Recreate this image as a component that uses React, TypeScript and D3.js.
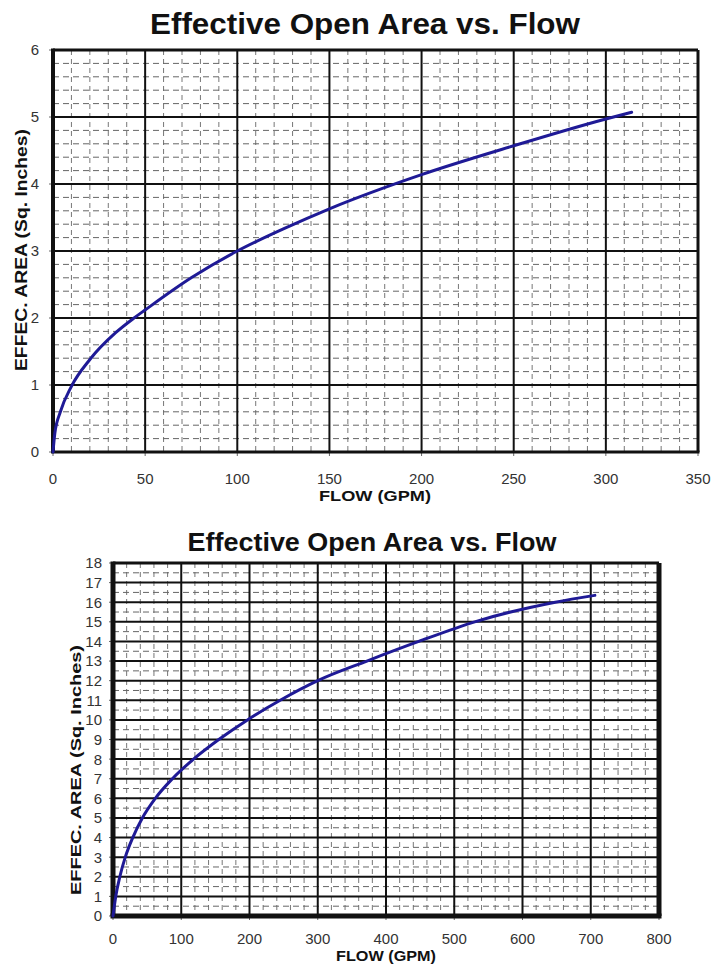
import * as d3 from 'd3';
import React from 'react';

// values
const smallFlow = [0, 1, 4, 10, 20, 34, 44, 50, 75, 100, 125, 150, 200, 250, 300, 314];
const smallArea = [0, 0.28, 0.6, 0.98, 1.38, 1.78, 2.0, 2.12, 2.6, 3.0, 3.33, 3.63, 4.14, 4.57, 4.97, 5.07];
const smallXTicks = [0, 50, 100, 150, 200, 250, 300, 350];
const smallYTicks = [0, 1, 2, 3, 4, 5, 6];

const bigFlow = [0, 4, 10, 18, 29, 43, 62, 87, 118, 155, 197, 245, 300, 372, 448, 530, 648, 706];
const bigArea = [0, 1, 2, 3, 4, 5, 6, 7, 8, 9, 10, 11, 12, 13, 14, 15, 16, 16.35];
const bigXTicks = [0, 100, 200, 300, 400, 500, 600, 700, 800];
const bigYTicks = d3.range(0, 19);

const FONT = 'Liberation Sans, Arial, sans-serif';

type Props = {
  flow: number[];
  area: number[];
  xTicks: number[];
  yTicks: number[];
  xMinor: number;
  yMinor: number;
  box: { left: number; right: number; top: number; bottom: number };
  border: { left: number; right: number; top: number; bottom: number };
  title: { x: number; y: number; size: number; len: number };
  yTitle: { x: number; y: number; size: number; len: number };
  xTitle: { x: number; y: number; size: number; len: number };
  tickSize: number;
  xLabelY: number;
  yLabelX: number;
};

const Chart: React.FC<Props> = (p) => {
  const { box } = p;
  const x = d3.scaleLinear()
    .domain([p.xTicks[0], p.xTicks[p.xTicks.length - 1]])
    .range([box.left, box.right]);
  const y = d3.scaleLinear()
    .domain([p.yTicks[0], p.yTicks[p.yTicks.length - 1]])
    .range([box.bottom, box.top]);

  const [x0, x1] = x.domain();
  const [y0, y1] = y.domain();
  const xMinor = d3.range(x0, x1 + 1e-9, p.xMinor).filter((v) => !p.xTicks.includes(v));
  const yMinor = d3.range(y0, y1 + 1e-9, p.yMinor)
    .map((v) => +v.toFixed(3))
    .filter((v) => !p.yTicks.includes(v));

  const pts = p.flow.map((f, i) => [f, p.area[i]] as [number, number]);
  const line = d3.line<[number, number]>()
    .x((d) => x(d[0]))
    .y((d) => y(d[1]))
    .curve(d3.curveMonotoneX);

  return (
    <g>
      <text x={p.title.x} y={p.title.y} textAnchor="middle" fontFamily={FONT} fontWeight="bold"
        fontSize={p.title.size} textLength={p.title.len} lengthAdjust="spacingAndGlyphs" fill="#111">
        Effective Open Area vs. Flow
      </text>

      {/* minor dashed grid */}
      {xMinor.map((v) => (
        <line key={'xm' + v} x1={x(v)} x2={x(v)} y1={box.top} y2={box.bottom}
          stroke="#777" strokeWidth={1} strokeDasharray="5,4" />
      ))}
      {yMinor.map((v) => (
        <line key={'ym' + v} x1={box.left} x2={box.right} y1={y(v)} y2={y(v)}
          stroke="#666" strokeWidth={1} strokeDasharray="6,4" />
      ))}

      {/* major grid */}
      {p.xTicks.slice(1, -1).map((v) => (
        <line key={'xM' + v} x1={x(v)} x2={x(v)} y1={box.top} y2={box.bottom} stroke="#111" strokeWidth={2} />
      ))}
      {p.yTicks.slice(1, -1).map((v) => (
        <line key={'yM' + v} x1={box.left} x2={box.right} y1={y(v)} y2={y(v)} stroke="#111" strokeWidth={2} />
      ))}

      {/* tick marks */}
      {p.xTicks.map((v) => (
        <line key={'xt' + v} x1={x(v)} x2={x(v)} y1={box.bottom} y2={box.bottom + p.tickSize} stroke="#666" strokeWidth={1} />
      ))}
      {p.yTicks.map((v) => (
        <line key={'yt' + v} x1={box.left - p.tickSize} x2={box.left} y1={y(v)} y2={y(v)} stroke="#666" strokeWidth={1} />
      ))}

      {/* frame */}
      <line x1={box.left} x2={box.right} y1={box.top} y2={box.top} stroke="#111" strokeWidth={p.border.top} />
      <line x1={box.right} x2={box.right} y1={box.top} y2={box.bottom} stroke="#111" strokeWidth={p.border.right} />
      <line x1={box.left - p.border.left / 2} x2={box.right + p.border.right / 2} y1={box.bottom} y2={box.bottom}
        stroke="#111" strokeWidth={p.border.bottom} />
      <line x1={box.left} x2={box.left} y1={box.top - p.border.top / 2} y2={box.bottom} stroke="#111" strokeWidth={p.border.left} />

      <path d={line(pts) ?? ''} fill="none" stroke="#1f1a96" strokeWidth={3} strokeLinecap="round" />

      {p.xTicks.map((v) => (
        <text key={'xl' + v} x={x(v)} y={p.xLabelY} textAnchor="middle" fontFamily={FONT} fontSize={15} fill="#333">
          {v}
        </text>
      ))}
      {p.yTicks.map((v) => (
        <text key={'yl' + v} x={p.yLabelX} y={y(v)} dy="0.36em" textAnchor="end" fontFamily={FONT} fontSize={15} fill="#333">
          {v}
        </text>
      ))}

      <text x={p.xTitle.x} y={p.xTitle.y} textAnchor="middle" fontFamily={FONT} fontWeight="bold"
        fontSize={p.xTitle.size} textLength={p.xTitle.len} lengthAdjust="spacingAndGlyphs" fill="#111">
        FLOW (GPM)
      </text>
      <text transform={`translate(${p.yTitle.x},${p.yTitle.y}) rotate(-90)`} textAnchor="middle" dy="0.36em"
        fontFamily={FONT} fontWeight="bold" fontSize={p.yTitle.size} textLength={p.yTitle.len}
        lengthAdjust="spacingAndGlyphs" fill="#111">
        EFFEC. AREA (Sq. Inches)
      </text>
    </g>
  );
};

const App: React.FC = () => (
  <svg width={715} height={964} style={{ position: 'absolute', left: 0, top: 0, background: '#fff' }}>
    <Chart
      flow={smallFlow} area={smallArea} xTicks={smallXTicks} yTicks={smallYTicks}
      xMinor={10} yMinor={0.2}
      box={{ left: 53, right: 698, top: 50, bottom: 452 }}
      border={{ left: 4, right: 3, top: 3, bottom: 3 }}
      title={{ x: 365, y: 34, size: 29, len: 430 }}
      yTitle={{ x: 21, y: 250, size: 16, len: 242 }}
      xTitle={{ x: 375, y: 501, size: 15, len: 112 }}
      tickSize={4} xLabelY={484} yLabelX={39}
    />
    <Chart
      flow={bigFlow} area={bigArea} xTicks={bigXTicks} yTicks={bigYTicks}
      xMinor={20} yMinor={0.5}
      box={{ left: 113, right: 659, top: 563, bottom: 916 }}
      border={{ left: 5, right: 5, top: 3, bottom: 5 }}
      title={{ x: 372, y: 551, size: 26, len: 369 }}
      yTitle={{ x: 76, y: 770, size: 15, len: 250 }}
      xTitle={{ x: 386, y: 961, size: 15, len: 100 }}
      tickSize={4} xLabelY={944} yLabelX={102}
    />
  </svg>
);

export default App;
